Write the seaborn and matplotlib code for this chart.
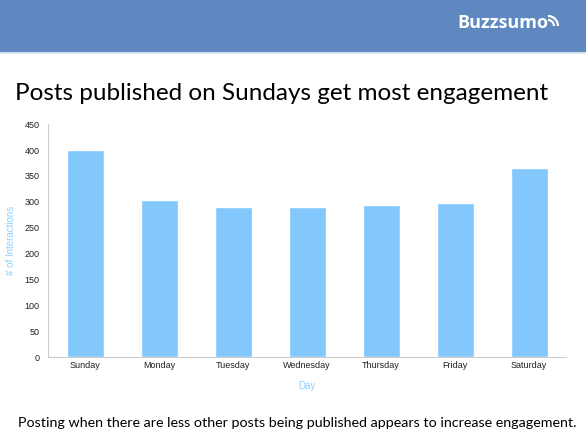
import numpy as np
import pandas as pd
import seaborn as sns
import matplotlib.pyplot as plt
from matplotlib.patches import Rectangle, Arc

days = ["Sunday", "Monday", "Tuesday", "Wednesday", "Thursday", "Friday", "Saturday"]
interactions = [401, 303, 291, 290, 293, 298, 365]
yticks = [0, 50, 100, 150, 200, 250, 300, 350, 400, 450]

title = "Posts published on Sundays get most engagement"
caption = "Posting when there are less other posts being published appears to increase engagement."

sns.set_style("white")
plt.rcParams['font.family'] = ['Liberation Sans', 'DejaVu Sans']

df = pd.DataFrame({"Day": days, "# of Interactions": interactions})

fig = plt.figure(figsize=(5.86, 4.36), dpi=100)
ax = fig.add_axes([0.082, 0.181, 0.884, 0.534])

sns.barplot(data=df, x="Day", y="# of Interactions", color="#82c8fd",
            width=0.5, saturation=1, ax=ax)

ax.set_ylim(0, 450)
ax.set_xlim(-0.5, len(days) - 0.5)
ax.set_yticks(yticks)
ax.tick_params(axis="both", labelsize=6.5, colors="#222222", length=0, pad=3)
ax.set_xticks(np.arange(-0.5, len(days), 1), minor=True)
ax.tick_params(axis="x", which="minor", length=3, color="#cccccc", direction="out")
ax.tick_params(axis="y", length=3, color="#cccccc", direction="out")
ax.set_xlabel("Day", color="#8fd0ff", fontsize=7, labelpad=8)
ax.set_ylabel("# of Interactions", color="#8fd0ff", fontsize=7, labelpad=6)
for s in ["top", "right"]:
    ax.spines[s].set_visible(False)
for s in ["left", "bottom"]:
    ax.spines[s].set_color("#cccccc")
    ax.spines[s].set_linewidth(0.8)

# header band
fig.add_artist(Rectangle((0, 0.881), 1, 0.119, transform=fig.transFigure,
                         facecolor="#5e88bf", edgecolor="none"))
fig.add_artist(Rectangle((0, 0.876), 1, 0.005, transform=fig.transFigure,
                         facecolor="#d7e2ef", edgecolor="none"))
fig.text(0.78, 0.948, "Buzzsumo", color="white", fontsize=13, fontweight="bold",
         family=["Open Sans", "DejaVu Sans"], va="center", ha="left")
# little signal arcs on the logo
for r in [6, 10]:
    fig.add_artist(Arc((548 / 586, 1 - 26 / 436), r / 586 * 2, r / 436 * 2,
                       theta1=0, theta2=90, transform=fig.transFigure,
                       color="white", lw=1.6))

fig.text(0.026, 0.785, title, fontsize=17.5, color="black",
         family=["Lato", "DejaVu Sans"], va="center", ha="left")
fig.text(0.03, 0.03, caption, fontsize=10.3, color="black",
         family=["Lato", "DejaVu Sans"], va="center", ha="left")

fig.savefig("out.png", dpi=100)
